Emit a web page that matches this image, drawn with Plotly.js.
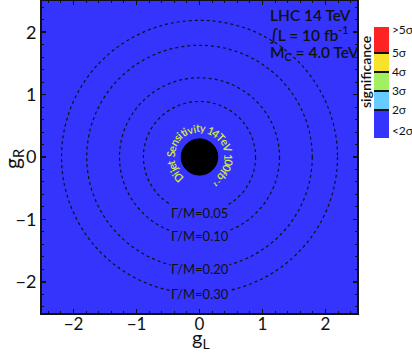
<!DOCTYPE html>
<html><head><meta charset="utf-8">
<script src="https://cdn.plot.ly/plotly-3.0.1.min.js"></script>
<style>html,body{margin:0;padding:0;background:#fff;}#chart{width:412px;height:354px;}</style>
</head><body><div id="chart"></div>
<script>
// ---- data ----
var widthLabels = ["Γ/M=0.05", "Γ/M=0.10", "Γ/M=0.20", "Γ/M=0.30"];
var widthRadii = [0.89, 1.27, 1.79, 2.19];          // radius (in g) of each Γ/M contour
var dijetRadius = 0.29;                               // excluded dijet disk
var dijetText = "Dijet Sensitivity 14TeV 100fb⁻¹";
var gridGL = [-2.5, 2.5];
var gridGR = [-2.5, 2.5];
var significance = [[1.0, 1.0], [1.0, 1.0]];          // everywhere < 2σ
var sigBoundaries = [2, 3, 4, 5];
var sigColors = ["#3434fc", "#66ccff", "#a0f060", "#f8e22c", "#ff2424"];
var cbTickVals = [0.9, 2, 3, 4, 5, 6.2];
var cbTickText = ["<2σ", "2σ", "3σ", "4σ", "5σ", ">5σ"];
var infoLines = ["LHC 14 TeV", "∫L = 10 fb<sup>-1</sup>", "M<sub>C</sub> = 4.0 TeV"];

// pixel frame of the plot area
var PL = 42, PR = 357, PT = 1, PB = 313, W = 412, H = 354;
var PW = PR - PL, PH = PB - PT;
function px(x){ return (x - PL)/PW; }
function py(y){ return (PB - y)/PH; }

var cmin = 2 - 28/19, cmax = 5 + 26/19;
function frac(v){ return (v - cmin)/(cmax - cmin); }
var lw = 0.07;
var cs = [];
var edges = [cmin].concat(sigBoundaries).concat([cmax]);
for (var i = 0; i < sigColors.length; i++) {
  var a = edges[i], b = edges[i+1];
  var a2 = i > 0 ? a + lw : a;
  var b2 = i < sigColors.length - 1 ? b - lw : b;
  if (i > 0) { cs.push([frac(a), "#111"]); cs.push([frac(a2), "#111"]); }
  cs.push([frac(a2), sigColors[i]]); cs.push([frac(b2), sigColors[i]]);
  if (i < sigColors.length - 1) { cs.push([frac(b2), "#111"]); }
}

var FONT = "Lato, Open Sans, DejaVu Sans, sans-serif";

var trace = {
  type: "heatmap", x: gridGL, y: gridGR, z: significance,
  zmin: cmin, zmax: cmax, colorscale: cs, hoverinfo: "skip",
  colorbar: {
    x: px(374), xanchor: "left", xpad: 0,
    y: py(27), yanchor: "top", ypad: 0,
    lenmode: "pixels", len: 111, thicknessmode: "pixels", thickness: 15,
    outlinewidth: 0, ticks: "", ticklabelpad: -1, tickvals: cbTickVals, ticktext: cbTickText,
    tickfont: {family: "Liberation Sans Narrow, Lato, sans-serif", size: 12, color: "#111"}
  }
};

var shapes = [];
widthRadii.forEach(function(r){
  shapes.push({type: "circle", xref: "x", yref: "y", x0: -r, x1: r, y0: -r, y1: r,
    line: {color: "#111", width: 1.2, dash: "dot"}});
});
shapes.push({type: "circle", xref: "x", yref: "y", x0: -dijetRadius, x1: dijetRadius,
  y0: -dijetRadius, y1: dijetRadius, fillcolor: "#000", line: {color: "#000", width: 1}});

var annotations = [];
widthRadii.forEach(function(r, i){
  annotations.push({x: 0, y: -r, xref: "x", yref: "y", text: widthLabels[i], showarrow: false,
    xanchor: "center", yanchor: "middle",
    font: {family: FONT, size: 13, color: "#111"}, bgcolor: "#3434fc", borderpad: 0});
});
infoLines.forEach(function(t, i){
  annotations.push({x: px(268), y: py(15 + 19*i), xref: "paper", yref: "paper", text: t, showarrow: false,
    xanchor: "left", yanchor: "middle", font: {family: FONT, size: 15.5, color: "#111", weight: 600}});
});
annotations.push({x: px(366), y: py(72), xref: "paper", yref: "paper", text: "significance",
  xanchor: "center", yanchor: "middle",
  textangle: -90, showarrow: false, font: {family: FONT, size: 14, color: "#111", weight: 600}});
// axis titles
annotations.push({x: px(201), y: py(354), xref: "paper", yref: "paper", text: "g<sub>L</sub>",
  xanchor: "center", yanchor: "bottom",
  showarrow: false, font: {family: FONT, size: 20, color: "#111"}});
annotations.push({x: px(13), y: py(158), xref: "paper", yref: "paper", text: "g<sub>R</sub>",
  xanchor: "center", yanchor: "middle",
  textangle: -90, showarrow: false, font: {family: FONT, size: 21, color: "#111"}});

// curved dijet label
var cw = {"D":0.75,"i":0.3,"j":0.3,"e":0.58,"t":0.4," ":0.32,"S":0.62,"n":0.62,"s":0.5,"v":0.56,"y":0.56,
          "1":0.58,"4":0.6,"T":0.6,"V":0.66,"0":0.6,"f":0.36,"b":0.62,"⁻":0.4,"¹":0.35};
var chars = Array.from(dijetText);
var tot = 0; chars.forEach(function(c){ tot += (cw[c] || 0.6); });
var startA = 233, endA = -64, rText = 0.47;
var acc = 0;
chars.forEach(function(c){
  var w = (cw[c] || 0.6);
  var th = startA - (startA - endA) * (acc + w/2) / tot;
  acc += w;
  if (c === " ") return;
  var rad = th * Math.PI / 180;
  annotations.push({x: rText*Math.cos(rad), y: rText*Math.sin(rad), xref: "x", yref: "y",
    text: c, showarrow: false, textangle: 90 - th, xanchor: "center", yanchor: "middle",
    font: {family: FONT, size: 11, color: "#d4ec3c", weight: 600}});
});

var axisCommon = {
  range: [-2.5, 2.5], showgrid: false, zeroline: false, showline: true, mirror: "ticks",
  linecolor: "#111", linewidth: 2, ticks: "inside", ticklen: 4, tickwidth: 1.5, tickcolor: "#111",
  dtick: 1, tick0: 0, tickfont: {family: FONT, size: 18, color: "#111"},
  minor: {dtick: 0.2, ticks: "inside", ticklen: 2, tickcolor: "#111", tickwidth: 1}
};
var xaxis = Object.assign({}, axisCommon, {ticklabelstandoff: -5, tickfont: {family: FONT, size: 17, color: "#111"}});
var yaxis = Object.assign({}, axisCommon, {ticklabelstandoff: 0});

var layout = {
  width: W, height: H, margin: {l: PL, r: W - PR, t: PT, b: H - PB, autoexpand: false},
  paper_bgcolor: "#fff", plot_bgcolor: "#3434fc", showlegend: false,
  xaxis: xaxis, yaxis: yaxis, shapes: shapes, annotations: annotations
};
Plotly.newPlot("chart", [trace], layout, {staticPlot: true, displayModeBar: false});
</script></body></html>
